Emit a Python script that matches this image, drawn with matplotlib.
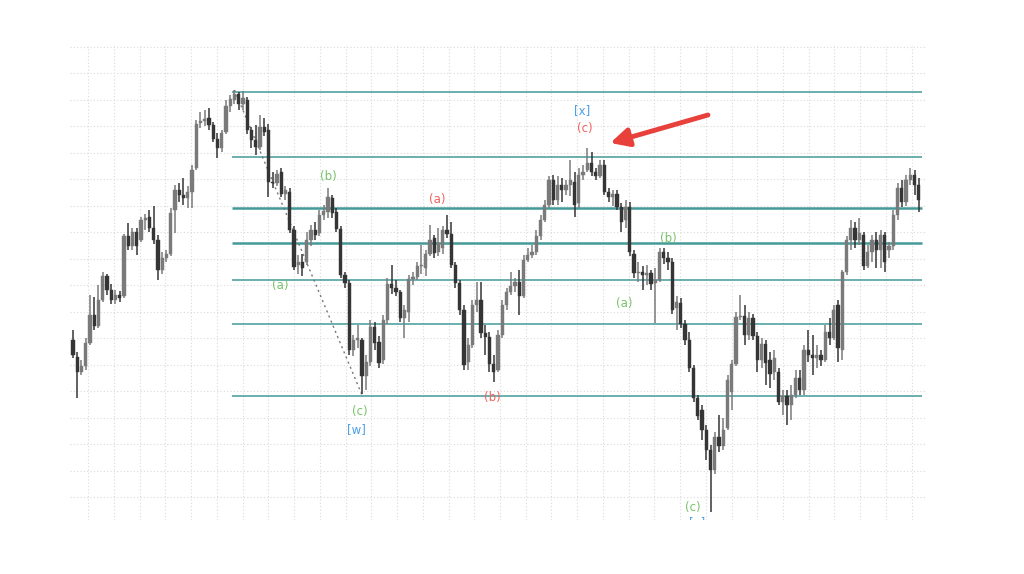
import numpy as np
import matplotlib
matplotlib.use('Agg')
import matplotlib.pyplot as plt

# OHLC in price points, one candle per bar
opens = [180, 163, 148, 154, 177, 205, 194, 220, 244, 230, 220, 225, 224, 284, 274, 288, 280, 300, 303, 292,
         280, 250, 262, 266, 310, 330, 325, 322, 328, 352, 397, 399, 402, 395, 381, 372, 388, 414, 420, 426,
         416, 420, 390, 380, 373, 393, 390, 338, 337, 348, 326, 328, 290, 255, 258, 258, 280, 290, 287, 305,
         308, 322, 308, 291, 245, 237, 170, 180, 180, 144, 158, 193, 178, 160, 200, 236, 232, 228, 202, 208,
         241, 243, 254, 252, 266, 282, 268, 272, 290, 286, 255, 237, 210, 158, 175, 215, 220, 187, 183, 156,
         150, 185, 215, 228, 234, 238, 224, 260, 265, 268, 284, 300, 315, 340, 320, 335, 330, 335, 338, 317,
         345, 350, 357, 348, 344, 355, 328, 323, 326, 313, 300, 313, 266, 247, 248, 245, 247, 237, 240, 268,
         262, 258, 212, 217, 196, 180, 152, 122, 110, 90, 70, 50, 83, 74, 92, 128, 156, 203, 204, 185,
         202, 184, 160, 176, 160, 148, 148, 118, 124, 115, 125, 142, 130, 170, 165, 162, 165, 160, 188, 182,
         215, 170, 248, 280, 292, 280, 285, 254, 268, 280, 270, 285, 270, 274, 305, 332, 318, 340, 345, 335]
closes = [165, 148, 154, 177, 205, 194, 220, 244, 230, 220, 225, 222, 284, 274, 288, 274, 300, 302, 292, 280,
          250, 262, 266, 307, 330, 325, 322, 328, 350, 396, 399, 401, 395, 381, 372, 387, 414, 421, 426, 416,
          422, 390, 380, 373, 393, 388, 338, 337, 346, 326, 330, 290, 253, 258, 252, 280, 290, 285, 305, 309,
          323, 307, 291, 245, 237, 170, 180, 182, 144, 158, 193, 177, 157, 200, 236, 232, 228, 202, 210, 241,
          243, 254, 255, 266, 280, 267, 277, 290, 286, 255, 237, 210, 155, 175, 215, 220, 187, 183, 156, 148,
          185, 215, 228, 234, 238, 224, 260, 265, 268, 284, 300, 315, 340, 320, 335, 330, 335, 340, 315, 345,
          348, 357, 348, 344, 355, 328, 323, 326, 313, 298, 313, 268, 247, 248, 245, 247, 236, 240, 268, 262,
          258, 210, 218, 196, 180, 152, 122, 104, 90, 70, 50, 83, 74, 90, 140, 156, 203, 204, 185, 202,
          184, 160, 176, 157, 146, 162, 118, 124, 115, 125, 142, 130, 170, 165, 162, 165, 160, 188, 182, 210,
          172, 248, 280, 292, 280, 287, 254, 268, 280, 270, 285, 258, 274, 305, 332, 318, 340, 345, 335, 320]
highs = [190, 168, 160, 182, 225, 223, 235, 248, 246, 236, 230, 229, 286, 297, 292, 292, 303, 306, 310, 314,
         285, 268, 270, 312, 335, 337, 342, 334, 355, 400, 408, 410, 412, 398, 387, 390, 420, 425, 430, 428,
         429, 423, 393, 395, 405, 402, 396, 348, 350, 352, 334, 332, 294, 265, 266, 288, 295, 298, 310, 315,
         332, 325, 312, 294, 248, 240, 185, 195, 182, 165, 200, 198, 184, 205, 242, 255, 240, 230, 215, 245,
         248, 258, 275, 270, 295, 285, 292, 294, 305, 298, 258, 240, 215, 182, 220, 238, 238, 195, 188, 165,
         190, 220, 232, 248, 242, 250, 265, 272, 275, 290, 305, 320, 344, 345, 344, 342, 340, 360, 348, 352,
         355, 372, 368, 352, 360, 360, 332, 330, 330, 317, 320, 318, 270, 258, 254, 255, 250, 252, 272, 272,
         268, 262, 224, 222, 200, 188, 155, 125, 115, 95, 75, 88, 105, 102, 145, 160, 208, 225, 215, 208,
         206, 188, 182, 180, 168, 170, 152, 130, 130, 135, 150, 150, 175, 190, 185, 175, 170, 195, 202, 215,
         220, 250, 284, 300, 298, 302, 288, 275, 285, 288, 290, 288, 278, 310, 337, 340, 345, 352, 350, 342]
lows = [162, 122, 145, 150, 175, 190, 192, 218, 225, 216, 216, 218, 222, 270, 270, 265, 278, 290, 288, 276,
        240, 246, 258, 264, 287, 318, 315, 312, 312, 350, 392, 394, 390, 378, 362, 368, 386, 408, 416, 410,
        410, 386, 372, 365, 370, 384, 323, 332, 334, 323, 320, 287, 250, 246, 244, 255, 274, 280, 284, 300,
        302, 302, 288, 242, 232, 165, 164, 172, 126, 130, 154, 170, 152, 156, 196, 226, 224, 198, 182, 198,
        235, 240, 246, 244, 264, 262, 264, 266, 282, 252, 232, 205, 150, 150, 172, 208, 182, 165, 148, 138,
        148, 182, 210, 225, 228, 205, 222, 258, 262, 265, 280, 298, 312, 315, 315, 318, 325, 324, 303, 312,
        340, 348, 344, 340, 342, 325, 318, 314, 310, 288, 292, 264, 242, 238, 230, 235, 230, 197, 238, 256,
        250, 206, 190, 192, 175, 148, 118, 100, 80, 60, 8, 46, 68, 70, 90, 110, 154, 200, 175, 180,
        180, 148, 152, 135, 132, 140, 115, 105, 95, 100, 122, 125, 125, 158, 145, 152, 154, 158, 175, 180,
        158, 160, 245, 270, 272, 275, 250, 252, 258, 252, 252, 248, 262, 270, 300, 313, 314, 335, 325, 308]

# horizontal levels drawn from the top candle to the right edge
levels = [428, 363, 312, 277, 240, 196, 124]
level_start = 37.5

# wave labels: text, candle index, price, colour
wave_text = ['(a)', '(b)', '(c)', '[w]', '(a)', '(b)', '[x]', '(c)', '(a)', '(b)', '(c)', '[y]']
wave_idx = [48.7, 60.2, 67.5, 66.8, 85.6, 98.6, 119.8, 120.5, 129.6, 140.2, 145.9, 146.8]
wave_price = [234, 344, 109, 90, 321, 123, 409, 392, 217, 282, 12, -4]
green, red, blue = '#79c26a', '#f0625c', '#4c9fe6'
wave_col = [green, green, green, blue, red, red, blue, red, green, green, green, blue]

# dotted trend line from the top to the [w] low
trend_idx = [38, 68]
trend_price = [430, 125]

fig = plt.figure(figsize=(10.24, 5.74), dpi=100)
fig.patch.set_facecolor('white')
ax = fig.add_axes([70 / 1024, 54 / 574, 856 / 1024, 474 / 574])

n = len(closes)
x = np.arange(n)
o = np.array(opens)
c = np.array(closes)
h = np.array(highs)
l = np.array(lows)
up = c >= o
cols = np.where(up, '#7a7a7a', '#353535')

ax.vlines(x, l, h, colors=cols, linewidth=1.1, zorder=3)
body = np.maximum(np.abs(c - o), 1.2)
ax.bar(x, body, bottom=np.minimum(o, c), width=0.75, color=cols, edgecolor=cols, linewidth=0.3, zorder=4)

lw = [1.1, 1.1, 1.8, 1.8, 1.1, 1.1, 1.1]
for lev, w in zip(levels, lw):
    ax.hlines(lev, level_start, n - 0.2, colors='#449a98', linewidth=w, zorder=2)

ax.plot(trend_idx, trend_price, linestyle=(0, (1.5, 2.5)), color='#777777', linewidth=1.0, zorder=2)

for t, xi, p, col in zip(wave_text, wave_idx, wave_price, wave_col):
    ax.text(xi, p, t, color=col, fontsize=8.5, ha='center', va='center', zorder=5, clip_on=True)

ax.annotate('', xy=(126.4, 377), xytext=(149.4, 405),
            arrowprops=dict(arrowstyle='-|>,head_length=1.1,head_width=0.55', color='#e8403b',
                            lw=3.5, shrinkA=0, shrinkB=0), zorder=6)

ax.set_xlim(-0.7, n + 0.7)
ax.set_ylim(0, 474)
ax.set_xticks(3.6 + 6.054 * np.arange(33))
ax.set_yticks(23 + 26.5 * np.arange(18))
ax.grid(True, linestyle=(0, (1, 2)), color='#dadada', linewidth=0.8, zorder=0)
ax.tick_params(length=0, labelbottom=False, labelleft=False)
for s in ax.spines.values():
    s.set_visible(False)

fig.savefig('out.png', dpi=100, facecolor='white')
